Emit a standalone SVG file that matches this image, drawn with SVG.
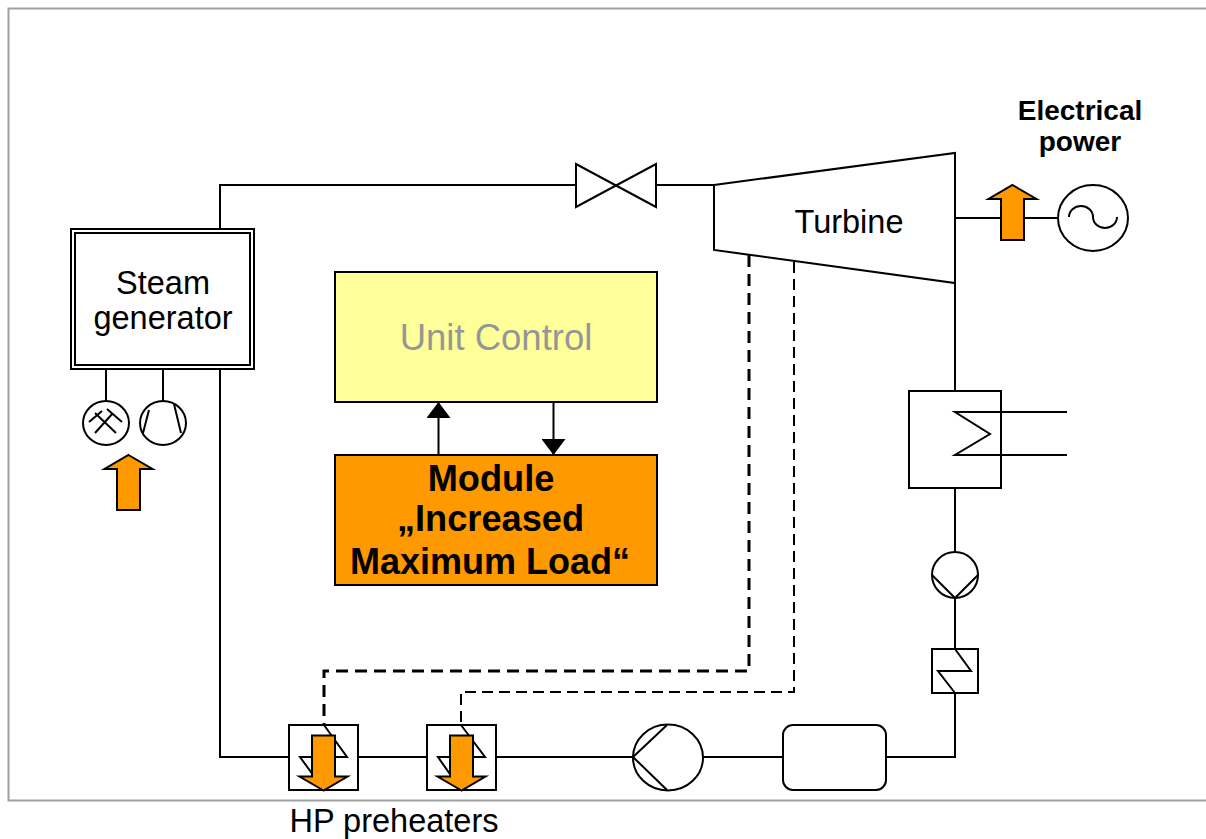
<svg xmlns="http://www.w3.org/2000/svg" width="1206" height="839" viewBox="0 0 1206 839">
<defs>
<path id="up" d="M0 0L24 14H11.500V55H-11.500V14H-24Z" class="orange"/>
<marker id="tri" viewBox="0 0 16 24" refX="16" refY="12" markerWidth="16" markerHeight="24" markerUnits="userSpaceOnUse" orient="auto"><path d="M0 0L16 12L0 24Z" fill="#000"/></marker>
</defs>
<style>
.l{fill:none;stroke:#000;stroke-width:2}
.w{fill:#fff;stroke:#000;stroke-width:2}
.orange{fill:#ff9900;stroke:#000;stroke-width:2}
text{font-family:"Liberation Sans",Arial,sans-serif;fill:#000;text-anchor:middle}
.t{font-size:32.500px}
.b{font-weight:bold}
</style>
<rect width="1206" height="839" fill="#fff"/>
<path d="M1206 8.500H8.500V800.500H1206" fill="none" stroke="#a0a0a0" stroke-width="2"/>
<g id="connectors">
<path class="l" d="M220 229V185H576M656 185H714"/>
<path class="l" d="M220 369V757H289M358 757H427M496 757H633M703 757H783M886 757H955V693"/>
<path class="l" d="M955 283V391M955 488V552M955 598V649"/>
<path class="l" d="M955 218H1058"/>
<path class="l" d="M106 369V401M163 369V401"/>
<path d="M749 255V671H324V725" fill="none" stroke="#000" stroke-width="3" stroke-dasharray="12 7"/>
<path d="M794 262V692H461V725" fill="none" stroke="#000" stroke-width="2" stroke-dasharray="11 6"/>
<path class="l" d="M438.500 455V402" marker-end="url(#tri)"/>
<path class="l" d="M553.500 402V455" marker-end="url(#tri)"/>
</g>
<g id="steam-generator">
<rect class="w" x="71" y="229" width="183" height="140"/>
<rect class="w" x="75" y="233" width="175" height="132"/>
<text class="t" x="163" y="293.500">Steam</text>
<text class="t" x="163" y="329">generator</text>
</g>
<g id="coal-mill">
<ellipse class="w" cx="106" cy="423" rx="23" ry="22"/>
<path class="l" d="M89 422L102 411M95 413L116 433M107 409L122 422M113 413L95 433"/>
</g>
<g id="fan">
<ellipse class="w" cx="163" cy="423" rx="23" ry="22"/>
<path class="l" d="M149 410L143 433M174 404L181 433"/>
</g>
<use id="fuel-arrow" href="#up" x="128.500" y="455"/>
<g id="valve"><path class="w" d="M576 164L656 207V164L576 207Z"/></g>
<g id="turbine">
<path class="w" d="M714 185L955 153V283L714 250Z"/>
<text class="t" x="849" y="233">Turbine</text>
</g>
<text class="b" x="1080" y="120" style="font-size:28px">Electrical</text>
<text class="b" x="1080" y="151" style="font-size:28px">power</text>
<use id="power-arrow" href="#up" x="1012.500" y="185"/>
<g id="generator">
<ellipse class="w" cx="1093" cy="218" rx="35" ry="33"/>
<path class="l" d="M1069 217A12 11 0 0 1 1093 217A12 11 0 0 0 1117 217"/>
</g>
<g id="condenser">
<rect class="w" x="909" y="391" width="92" height="97"/>
<path class="l" d="M1067 412H955L990 434L955 455H1067"/>
</g>
<g id="condensate-pump">
<circle class="w" cx="955" cy="575" r="23"/>
<path class="l" d="M932 575L955 598L978 575"/>
</g>
<g id="lp-heater">
<rect class="w" x="932" y="649" width="46" height="44"/>
<path class="l" d="M955 649L971 671H938L955 693"/>
</g>
<g id="unit-control">
<rect x="335" y="272" width="322" height="130" fill="#ffff99" stroke="#000" stroke-width="2"/>
<text x="496" y="350" style="font-size:36.500px;fill:#969696">Unit Control</text>
</g>
<g id="module">
<rect class="orange" x="335" y="455" width="322" height="130"/>
<text class="b" x="491" y="491" style="font-size:36.200px">Module</text>
<text class="b" x="490.500" y="531" style="font-size:36.200px">„Increased</text>
<text class="b" x="490" y="574" style="font-size:36px">Maximum Load“</text>
</g>
<g id="feed-pump">
<ellipse class="w" cx="668" cy="757.500" rx="35" ry="33"/>
<path class="l" d="M667 725L633 757L667 790"/>
</g>
<g id="tank"><rect class="w" x="783" y="725" width="103" height="65" rx="10"/></g>
<g id="hp-preheater-1">
<rect class="w" x="289" y="725" width="69" height="65"/>
<path class="l" d="M324 725L347 757H300L324 790"/>
<use href="#up" transform="translate(323.500 790.500) rotate(180)"/>
</g>
<g id="hp-preheater-2">
<rect class="w" x="427" y="725" width="69" height="65"/>
<path class="l" d="M461 725L485 757H438L461 790"/>
<use href="#up" transform="translate(461.500 790.500) rotate(180)"/>
</g>
<text class="t" x="394" y="832">HP preheaters</text>
</svg>
